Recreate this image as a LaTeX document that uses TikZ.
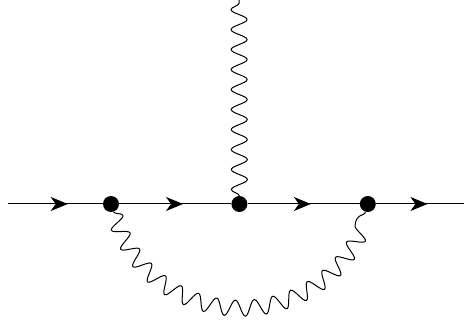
\documentclass[tikz,border=0pt]{standalone}
\usetikzlibrary{arrows.meta,positioning,decorations.markings,decorations.pathmorphing}

\begin{document}
\begin{tikzpicture}[
    x=1pt, y=1pt,
    node distance=112pt,
    vertex/.style={circle, fill=black, inner sep=0pt, minimum size=16pt},
    fermion/.style={line width=1pt, postaction={decorate},
                decoration={markings, mark=at position #1 with
                {\arrow{Stealth[length=17pt,width=14pt,inset=5pt]}}}},
    photon/.style={line width=1pt, decorate,
                decoration={snake, segment length=20pt, amplitude=8pt}}
]
\useasboundingbox (0,0) rectangle (464,322);

\node[vertex] (v1) at (111,118) {};
\node[vertex, right=of v1] (v2) {};
\node[vertex, right=of v2] (v3) {};
\coordinate (in) at (8,118);
\coordinate (out) at (464,118);
\coordinate (top) at (239,322);

\draw[fermion=0.63] (in) -- (v1);
\draw[fermion=0.57] (v1) -- (v2);
\draw[fermion=0.565] (v2) -- (v3);
\draw[fermion=0.585] (v3) -- (out);

\draw[photon] (v2) -- (top);
\draw[photon] (v1) .. controls (152,-12) and (326,-12) .. (v3);

\end{tikzpicture}
\end{document}
